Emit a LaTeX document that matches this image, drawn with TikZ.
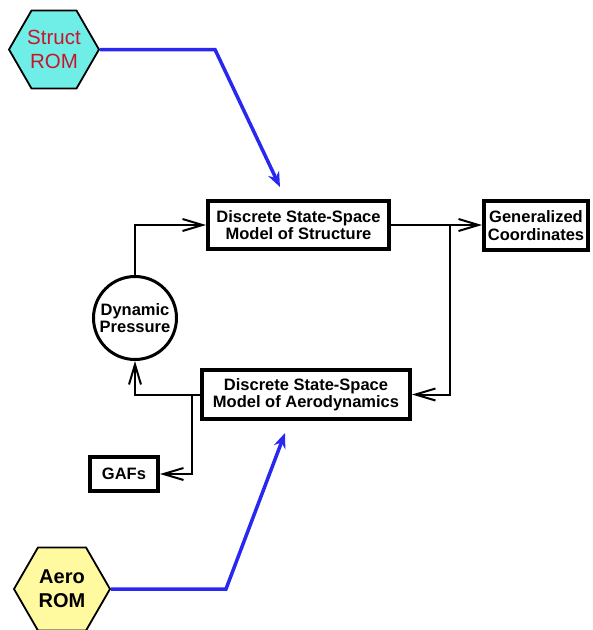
\documentclass[tikz,border=0pt]{standalone}
\usepackage{fontspec}
\setmainfont{Liberation Sans}
\usetikzlibrary{arrows.meta,shapes.geometric}
\definecolor{romcyan}{RGB}{110,238,230}
\definecolor{romyellow}{RGB}{255,250,160}
\definecolor{romred}{RGB}{200,20,45}
\definecolor{flowblue}{RGB}{40,40,240}
\tikzset{
  blockbox/.style={draw=black,line width=4pt,fill=white,inner sep=0pt,align=center,
    font=\fontsize{16.5}{17.5}\selectfont\bfseries},
  hexrom/.style={regular polygon,regular polygon sides=6,draw=black,line width=1.8pt,
    minimum size=#1,inner sep=0pt,align=center,font=\fontsize{20.5}{24}\selectfont},
  wire/.style={draw=black,line width=2pt},
  openarrow/.style={-{Straight Barb[length=20pt,width=12pt,line width=2pt]}},
  bluearrow/.style={draw=flowblue,line width=3.5pt,line join=miter,
    -{Stealth[length=15pt,width=12pt]}}
}
\begin{document}
\begin{tikzpicture}[x=1pt,y=-1pt]
\useasboundingbox (0,0) rectangle (593,630);
% nodes
\node[hexrom=90pt,fill=romcyan,text=romred] (sr) at (54,49.5) {Struct\\ROM};
\node[hexrom=96pt,fill=romyellow,font=\fontsize{20}{24}\selectfont\bfseries] (ar) at (62,589) {Aero\\ROM};
\node[blockbox,minimum width=181pt,minimum height=48pt] (struct) at (298.5,225) {Discrete State-Space\\Model of Structure};
\node[blockbox,minimum width=208pt,minimum height=49pt] (aero) at (306,394.5) {Discrete State-Space\\Model of Aerodynamics};
\node[blockbox,minimum width=104pt,minimum height=49pt] (gen) at (536,225.5) {Generalized\\Coordinates};
\node[blockbox,minimum width=68pt,minimum height=34pt] (gafs) at (124,474) {GAFs};
\node[circle,draw=black,line width=3pt,fill=white,minimum size=83pt,inner sep=0pt,align=center,
  font=\fontsize{16.5}{17.5}\selectfont\bfseries] (dp) at (135,318) {Dynamic\\Pressure};
% junctions and free ends
\coordinate (jr) at (450,225);
\coordinate (jl) at (192,394.5);
\coordinate (sbend) at (215,49.5);
\coordinate (stip) at (280,187);
\coordinate (abend) at (226,589);
\coordinate (atip) at (285,433);
% black connectors
\draw[wire,openarrow] (struct.east) -- (gen.west |- struct.east);
\draw[wire,openarrow] (jr) |- (aero.east);
\draw[wire,openarrow] (dp.north) |- (struct.west);
\draw[wire,openarrow] (aero.west) -| (dp.south);
\draw[wire,openarrow] (jl) |- (gafs.east);
% blue connectors
\draw[bluearrow] (sr.east) -- (sbend) -- (stip);
\draw[bluearrow] (ar.east) -- (abend) -- (atip);
\end{tikzpicture}
\end{document}
